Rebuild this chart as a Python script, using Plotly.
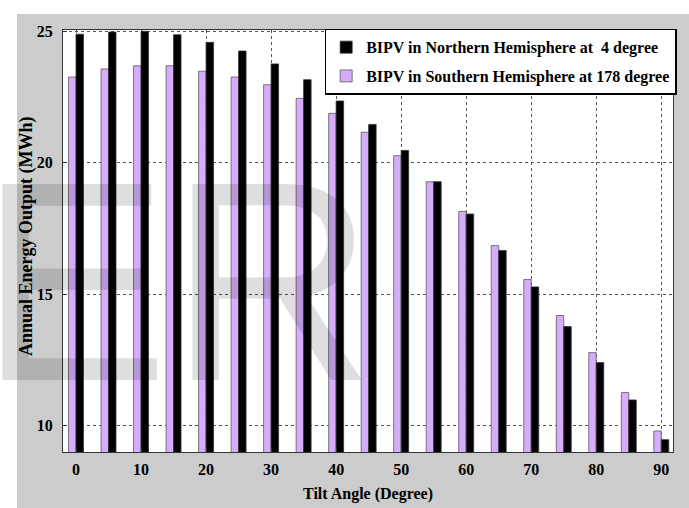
import plotly.graph_objects as go

# Tilt angles (degrees) and annual energy output (MWh) for the two orientations
tilt_angles = [0, 5, 10, 15, 20, 25, 30, 35, 40, 45, 50, 55, 60, 65, 70, 75, 80, 85, 90]
north_4deg = [24.89, 24.97, 25.00, 24.87, 24.58, 24.25, 23.76, 23.16, 22.35, 21.46,
              20.47, 19.28, 18.05, 16.66, 15.28, 13.77, 12.40, 10.98, 9.47]
south_178deg = [23.26, 23.57, 23.69, 23.69, 23.48, 23.26, 22.97, 22.45, 21.88, 21.16,
                20.27, 19.28, 18.15, 16.85, 15.56, 14.19, 12.78, 11.26, 9.80]
x_ticks = [0, 10, 20, 30, 40, 50, 60, 70, 80, 90]
y_ticks = [10, 15, 20, 25]

north_name = "BIPV in Northern Hemisphere at \u00a04 degree"
south_name = "BIPV in Southern Hemisphere at 178 degree"

W, H = 689, 508
M_L, M_R, M_T, M_B = 63, 16, 30, 56
PW = W - M_L - M_R
PH = H - M_T - M_B


def px_x(p):
    return (p - M_L) / PW


def px_y(p):
    return (H - M_B - p) / PH


SERIF = "Liberation Serif, Times New Roman, serif"

fig = go.Figure()
fig.add_trace(go.Bar(
    x=tilt_angles, y=south_178deg, name=south_name, legendrank=2, legendgroup="south",
    marker=dict(color="#d6acfc", line=dict(color="#5a5a5a", width=0.8)),
))
fig.add_trace(go.Bar(
    x=tilt_angles, y=north_4deg, name=north_name, legendrank=1, legendgroup="north",
    marker=dict(color="#000000", line=dict(color="#333333", width=0.8)),
))

axis_common = dict(
    showline=True, mirror=True, linecolor="#333333", linewidth=1,
    ticks="inside", ticklen=4, tickcolor="#333333",
    showgrid=True, gridcolor="#555555", griddash="dot", gridwidth=1,
    zeroline=False,
    tickfont=dict(family=SERIF, size=16, color="#000000", weight="bold"),
)

fig.update_layout(
    width=W, height=H,
    margin=dict(l=M_L, r=M_R, t=M_T, b=M_B, pad=0),
    paper_bgcolor="#cccccc", plot_bgcolor="#ffffff",
    barmode="group", bargap=0.54, bargroupgap=0.0,
    showlegend=True,
    legend=dict(
        x=1.006, xanchor="right", y=1.003, yanchor="top",
        traceorder="grouped", tracegroupgap=5,
        bgcolor="#ffffff", bordercolor="#000000", borderwidth=1.5,
        font=dict(family=SERIF, size=16, color="#000000", weight="bold"),
    ),
    xaxis=dict(range=[-2, 91.8], tickvals=x_ticks, ticklabelstandoff=3, **axis_common),
    yaxis=dict(range=[9, 25.05], tickvals=y_ticks, ticklabelstandoff=6, **axis_common),
    shapes=[
        # white page margin above and to the left of the figure
        dict(type="rect", xref="paper", yref="paper", layer="below",
             x0=px_x(0), x1=px_x(W), y0=px_y(14), y1=px_y(0),
             fillcolor="#ffffff", line=dict(width=0)),
        dict(type="rect", xref="paper", yref="paper", layer="below",
             x0=px_x(0), x1=px_x(17), y0=px_y(H), y1=px_y(0),
             fillcolor="#ffffff", line=dict(width=0)),
    ],
    annotations=[
        dict(text="Annual Energy Output (MWh)", textangle=-90,
             xref="paper", yref="paper", x=px_x(26), y=px_y(236),
             xanchor="center", yanchor="middle", showarrow=False,
             font=dict(family=SERIF, size=18, color="#000000", weight="bold")),
        dict(text="Tilt Angle (Degree)",
             xref="paper", yref="paper", x=px_x(368), y=px_y(494),
             xanchor="center", yanchor="middle", showarrow=False,
             font=dict(family=SERIF, size=16, color="#000000", weight="bold")),
        # translucent watermark letters over the figure
        dict(text="ER", xref="paper", yref="paper",
             x=px_x(-23), y=px_y(120), xanchor="left", yanchor="top",
             showarrow=False,
             font=dict(family="Liberation Sans, Arial, sans-serif", size=285,
                       color="rgba(0,0,0,0.13)")),
    ],
)

fig.write_html("out.html")
